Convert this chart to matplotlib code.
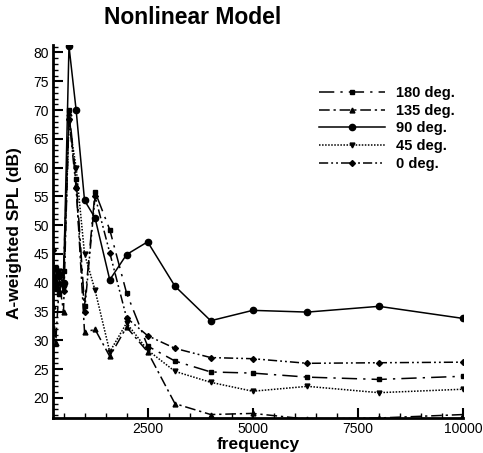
import matplotlib
matplotlib.use("Agg")
import matplotlib.pyplot as plt
from matplotlib.ticker import MultipleLocator

plt.rcParams['font.family'] = ['Liberation Sans', 'DejaVu Sans']

freq = [250, 315, 400, 500, 630, 800, 1000, 1250, 1600, 2000, 2500, 3150, 4000, 5000, 6300, 8000, 10000]
spl_180 = [41.0, 42.5, 38.0, 42.0, 70.0, 58.0, 36.0, 55.8, 49.2, 38.2, 29.0, 26.4, 24.5, 24.3, 23.6, 23.2, 23.75]
spl_135 = [36.0, 29.6, 40.0, 35.0, 69.5, 57.0, 31.4, 31.9, 27.2, 32.3, 28.0, 19.0, 17.1, 17.3, 16.3, 16.5, 17.1]
spl_90 = [40.5, 39.0, 41.5, 40.0, 81.1, 70.0, 54.3, 51.25, 40.5, 44.9, 47.1, 39.4, 33.4, 35.2, 34.9, 35.9, 33.8]
spl_45 = [39.0, 41.0, 42.0, 39.0, 68.0, 60.0, 45.0, 38.7, 28.0, 33.0, 28.3, 24.6, 22.7, 21.15, 22.0, 20.9, 21.5]
spl_0 = [45.7, 40.0, 41.0, 38.5, 68.5, 56.5, 35.0, 55.0, 45.2, 33.9, 30.8, 28.6, 27.0, 26.8, 26.0, 26.1, 26.2]
labels = ['180 deg.', '135 deg.', '90 deg.', '45 deg.', '0 deg.']

W, H = 483, 453
fig = plt.figure(figsize=(W / 100, H / 100), dpi=100)
L, R, T, B = 53, 463, 45, 418
ax = fig.add_axes([L / W, 1 - B / H, (R - L) / W, (B - T) / H])

styles = [
    dict(ls=(0, (10, 4, 1.5, 4)), marker='s', ms=3),
    dict(ls=(0, (7, 2.5, 1.5, 2.5)), marker='^', ms=3.5),
    dict(ls='-', marker='o', ms=4.5),
    dict(ls=(0, (1, 1)), marker='v', ms=3.5),
    dict(ls=(0, (6, 2, 1.2, 2, 1.2, 2)), marker='D', ms=3),
]
series = [spl_180, spl_135, spl_90, spl_45, spl_0]
for y, st, lab in zip(series, styles, labels):
    ax.plot(freq, y, color='black', lw=1.1, linestyle=st['ls'], marker=st['marker'],
            ms=st['ms'], mfc='black', mec='black', label=lab)

ax.set_xlim(250, 10000)
ax.set_ylim(16.5, 81.3)
ax.xaxis.set_minor_locator(MultipleLocator(500))
ax.yaxis.set_major_locator(MultipleLocator(5))
ax.yaxis.set_minor_locator(MultipleLocator(1))
ax.set_xticks([2500, 5000, 7500, 10000])
ax.tick_params(which='major', direction='in', length=7, width=1.5, labelsize=10, pad=3)
ax.tick_params(which='minor', direction='in', length=3.5, width=1)
for s in ['top', 'right']:
    ax.spines[s].set_visible(False)
for s in ['left', 'bottom']:
    ax.spines[s].set_linewidth(2)

fig.text(15 / W, 1 - 233 / H, 'A-weighted SPL (dB)', rotation=90, ha='center', va='center',
         fontsize=12.5, fontweight='bold')
fig.text(258 / W, 1 - 445 / H, 'frequency', ha='center', va='center', fontsize=12.5, fontweight='bold')
fig.text(193 / W, 1 - 17 / H, 'Nonlinear Model', ha='center', va='center', fontsize=16.5, fontweight='bold')

ax.legend(loc='upper left', bbox_to_anchor=(253 / (R - L), 1 - (73 - T) / (B - T)), frameon=False,
          handlelength=4.5, labelspacing=0.25, handletextpad=0.8,
          prop={'weight': 'bold', 'size': 10.5})

fig.savefig('out.png', dpi=100)
